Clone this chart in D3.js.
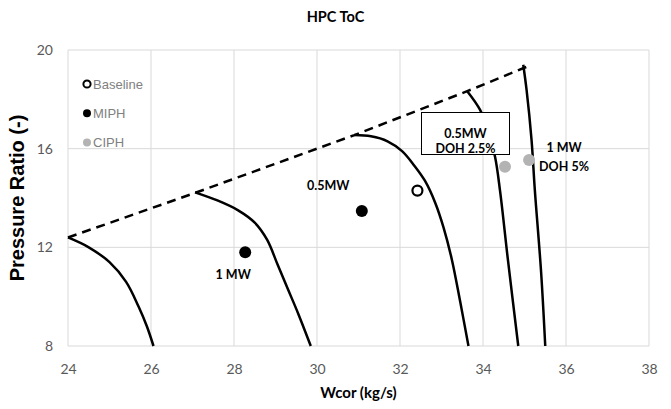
<!DOCTYPE html>
<html>
<head>
<meta charset="utf-8">
<script src="https://cdn.jsdelivr.net/npm/d3@7"></script>
<style>
  body { margin: 0; background: #fff; }
  svg { display: block; }
</style>
</head>
<body>
<div id="chart"></div>
<script>
// surge line (dashed), corrected flow vs pressure ratio
const surgeWc = [24.0, 27.05, 30.9, 33.62, 35.1];
const surgePr = [12.4, 14.2, 16.55, 18.33, 19.35];

// speed lines, [Wcor, PR]
const speed1 = [[24.0, 12.4], [24.5, 12.0], [25.0, 11.4], [25.4, 10.6], [25.7, 9.6], [25.9, 8.8], [26.06, 8.0]];
const speed2 = [[27.06, 14.23], [27.6, 13.9], [28.1, 13.5], [28.5, 13.0], [28.8, 12.3], [29.05, 11.3], [29.3, 10.3], [29.55, 9.3], [29.85, 8.0]];
const speed3 = [[30.9, 16.55], [31.3, 16.5], [31.7, 16.3], [32.05, 15.9], [32.35, 15.3], [32.6, 14.7], [32.85, 13.8], [33.05, 12.8], [33.25, 11.5], [33.45, 9.8], [33.65, 8.0]];
const speed4 = [[33.62, 18.33], [33.93, 17.57], [34.12, 16.7], [34.29, 15.67], [34.41, 14.3], [34.6, 11.5], [34.85, 8.0]];
const speed5 = [[34.97, 19.4], [35.05, 18.38], [35.17, 16.35], [35.25, 14.3], [35.4, 11.0], [35.5, 8.0]];

// operating points
const baselinePts = [[32.42, 14.3]];
const miphPts = [[28.27, 11.8], [31.08, 13.47]];
const ciphPts = [[34.53, 15.27], [35.11, 15.54]];

const xTicks = [24, 26, 28, 30, 32, 34, 36, 38];
const yTicks = [8, 12, 16, 20];
const legendNames = ['Baseline', 'MIPH', 'CIPH'];

const W = 671, H = 409;
const margin = {top: 50, right: 22, bottom: 63, left: 68};

const svg = d3.select('#chart').append('svg')
    .attr('width', W)
    .attr('height', H);

const x = d3.scaleLinear().domain([24, 38]).range([margin.left, W - margin.right]);
const y = d3.scaleLinear().domain([8, 20]).range([H - margin.bottom, margin.top]);

// grid
const grid = svg.append('g');
grid.selectAll('line.v').data(xTicks).enter().append('line')
    .attr('x1', d => x(d)).attr('x2', d => x(d))
    .attr('y1', y(8)).attr('y2', y(20))
    .attr('stroke', '#d9d9d9').attr('stroke-width', 1);
grid.selectAll('line.h').data(yTicks).enter().append('line')
    .attr('x1', x(24)).attr('x2', x(38))
    .attr('y1', d => y(d)).attr('y2', d => y(d))
    .attr('stroke', '#d9d9d9').attr('stroke-width', 1);

// axes (labels only)
const xAxis = svg.append('g')
    .attr('transform', `translate(0,${y(8)})`)
    .call(d3.axisBottom(x).tickValues(xTicks).tickSize(0).tickPadding(18));
const yAxis = svg.append('g')
    .attr('transform', `translate(${x(24)},0)`)
    .call(d3.axisLeft(y).tickValues(yTicks).tickSize(0).tickPadding(15));
[xAxis, yAxis].forEach(a => {
    a.select('.domain').remove();
    a.selectAll('text')
        .attr('fill', '#595959')
        .style('font-family', 'Lato, "Open Sans", sans-serif')
        .style('font-size', '14px');
});

// titles
svg.append('text')
    .attr('x', W / 2).attr('y', 22)
    .attr('text-anchor', 'middle')
    .style('font-family', 'Lato, sans-serif')
    .style('font-weight', 'bold').style('font-size', '14.5px')
    .text('HPC ToC');
svg.append('text')
    .attr('x', (x(24) + x(38)) / 2).attr('y', 398)
    .attr('text-anchor', 'middle')
    .style('font-family', 'Lato, sans-serif')
    .style('font-weight', 'bold').style('font-size', '15px')
    .text('Wcor (kg/s)');
svg.append('text')
    .attr('transform', `translate(24,${(y(8) + y(20)) / 2}) rotate(-90)`)
    .attr('text-anchor', 'middle')
    .style('font-family', '"Liberation Sans", Arial, sans-serif')
    .style('font-weight', 'bold').style('font-size', '20px')
    .text('Pressure Ratio (-)');

// surge line
svg.append('path')
    .datum(d3.zip(surgeWc, surgePr))
    .attr('fill', 'none')
    .attr('stroke', '#000').attr('stroke-width', 2.5)
    .attr('stroke-dasharray', '9,6')
    .attr('d', d3.line().x(d => x(d[0])).y(d => y(d[1])));

// speed lines
const speedLine = d3.line()
    .x(d => x(d[0])).y(d => y(d[1]))
    .curve(d3.curveCatmullRom.alpha(0.5));
svg.append('g').selectAll('path')
    .data([speed1, speed2, speed3, speed4, speed5])
    .enter().append('path')
    .attr('fill', 'none')
    .attr('stroke', '#000').attr('stroke-width', 2.5)
    .attr('d', speedLine);

// points
svg.append('g').selectAll('circle')
    .data(baselinePts).enter().append('circle')
    .attr('cx', d => x(d[0])).attr('cy', d => y(d[1])).attr('r', 5)
    .attr('fill', '#fff').attr('stroke', '#000').attr('stroke-width', 2.2);
svg.append('g').selectAll('circle')
    .data(miphPts).enter().append('circle')
    .attr('cx', d => x(d[0])).attr('cy', d => y(d[1])).attr('r', 6)
    .attr('fill', '#000');
svg.append('g').selectAll('circle')
    .data(ciphPts).enter().append('circle')
    .attr('cx', d => x(d[0])).attr('cy', d => y(d[1])).attr('r', 6)
    .attr('fill', '#b3b3b3');

// annotations
const annFont = 'Lato, "Open Sans", sans-serif';
function label(txt, cx, cy) {
    svg.append('text')
        .attr('x', x(cx)).attr('y', y(cy))
        .attr('text-anchor', 'middle').attr('dy', '0.35em')
        .style('font-family', annFont)
        .style('font-weight', 'bold').style('font-size', '12.5px')
        .text(txt);
}
label('1 MW', 27.98, 10.88);
label('0.5MW', 30.27, 14.49);

// boxed label
svg.append('rect')
    .attr('x', 421.5).attr('y', 112.5)
    .attr('width', 88).attr('height', 42)
    .attr('fill', '#fff').attr('stroke', '#000').attr('stroke-width', 1);
svg.append('text')
    .attr('x', 465.5).attr('y', 133.5).attr('dy', '0.35em')
    .attr('text-anchor', 'middle')
    .style('font-family', annFont).style('font-weight', 'bold').style('font-size', '12.5px')
    .text('0.5MW');
svg.append('text')
    .attr('x', 465.5).attr('y', 149).attr('dy', '0.35em')
    .attr('text-anchor', 'middle')
    .style('font-family', annFont).style('font-weight', 'bold').style('font-size', '12.5px')
    .text('DOH 2.5%');
svg.append('text')
    .attr('x', 564).attr('y', 148).attr('dy', '0.35em')
    .attr('text-anchor', 'middle')
    .style('font-family', annFont).style('font-weight', 'bold').style('font-size', '12.5px')
    .text('1 MW');
svg.append('text')
    .attr('x', 564).attr('y', 166.5).attr('dy', '0.35em')
    .attr('text-anchor', 'middle')
    .style('font-family', annFont).style('font-weight', 'bold').style('font-size', '12.5px')
    .text('DOH 5%');

// legend
const legend = svg.append('g').attr('transform', 'translate(87,84)');
const lg = legend.selectAll('g').data(legendNames).enter().append('g')
    .attr('transform', (d, i) => `translate(0,${i * 29.3})`);
lg.append('circle')
    .attr('r', d => d === 'Baseline' ? 3.6 : 4)
    .attr('fill', d => d === 'Baseline' ? '#fff' : d === 'MIPH' ? '#000' : '#b3b3b3')
    .attr('stroke', d => d === 'Baseline' ? '#000' : 'none')
    .attr('stroke-width', 2);
lg.append('text')
    .attr('x', 6).attr('dy', '0.36em')
    .attr('fill', '#808080')
    .style('font-family', '"Liberation Sans", Arial, sans-serif')
    .style('font-size', '13px')
    .text(d => d);
</script>
</body>
</html>
